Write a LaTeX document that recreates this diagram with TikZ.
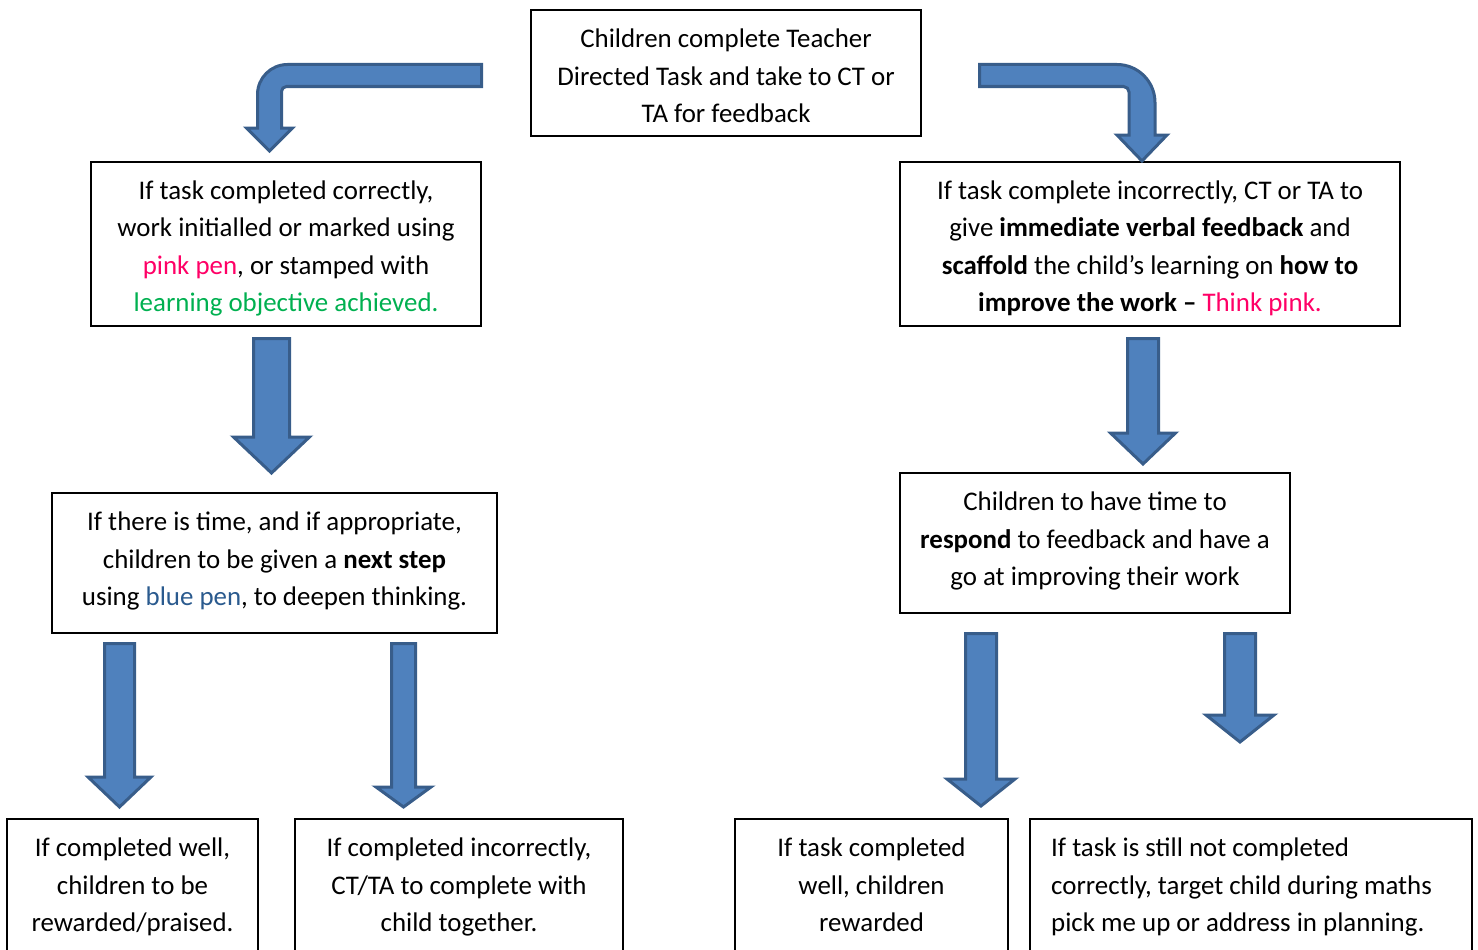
\documentclass[tikz,border=0pt]{standalone}
\usepackage{fontspec}
\setmainfont{Carlito}
\definecolor{arrfill}{HTML}{4F81BD}
\definecolor{arrline}{HTML}{385D8A}
\definecolor{pinkpen}{HTML}{FF0066}
\definecolor{greenpen}{HTML}{00B050}
\definecolor{bluepen}{HTML}{2A5A8E}
\tikzset{
  barrow/.style={fill=arrfill, draw=arrline, line width=3pt, line join=miter},
  frame/.style={draw, line width=1.5pt, inner sep=0pt},
  txt/.style={align=center, inner sep=0pt, font=\fontsize{26.9}{37.5}\selectfont}
}
\newcommand\bdarrow[6]{\draw[barrow] ({#1-#5},#2) -- ({#1+#5},#2) -- ({#1+#5},#3) -- ({#1+#6},#3) -- (#1,#4) -- ({#1-#6},#3) -- ({#1-#5},#3) -- cycle;}
\begin{document}
\begin{tikzpicture}[x=1pt,y=-1pt]
\useasboundingbox (0,0) rectangle (1478,950);
\clip (0,0) rectangle (1478,950);

% box frames
\node[frame, minimum width=390, minimum height=126] (top) at (726,73) {};
\node[frame, minimum width=390, minimum height=164] (left1) at (286,244) {};
\node[frame, minimum width=500, minimum height=164] (right1) at (1150,244) {};
\node[frame, minimum width=445, minimum height=140] (left2) at (274.5,563) {};
\node[frame, minimum width=390, minimum height=140] (right2) at (1095,543) {};
\node[frame, minimum width=251, minimum height=140] (bot1) at (132.5,889) {};
\node[frame, minimum width=328, minimum height=140] (bot2) at (459,889) {};
\node[frame, minimum width=273, minimum height=140] (bot3) at (871.5,889) {};
\node[frame, minimum width=442, minimum height=140] (bot4) at (1251,889) {};

% box texts
\node[txt] (topt) at (726,76)
  {Children complete Teacher\\Directed Task and take to CT or\\TA for feedback};
\node[txt] (left1t) at (286,248.5)
  {If task completed correctly,\\work initialled or marked using\\\textcolor{pinkpen}{pink pen}, or stamped with\\\textcolor{greenpen}{learning objective achieved.}};
\node[txt] (right1t) at (1150,248.5)
  {If task complete incorrectly, CT or TA to\\give \textbf{immediate verbal feedback} and\\\textbf{scaffold} the child’s learning on \textbf{how to}\\\textbf{improve the work –} \textcolor{pinkpen}{Think pink.}};
\node[txt] (left2t) at (274.5,561)
  {If there is time, and if appropriate,\\children to be given a \textbf{next step}\\using \textcolor{bluepen}{blue pen}, to deepen thinking.};
\node[txt] (right2t) at (1095,541)
  {Children to have time to\\\textbf{respond} to feedback and have a\\go at improving their work};
\node[txt] (bot1t) at (132.5,887)
  {If completed well,\\children to be\\rewarded/praised.};
\node[txt] (bot2t) at (459,887)
  {If completed incorrectly,\\CT/TA to complete with\\child together.};
\node[txt] (bot3t) at (871.5,890.5)
  {If task completed\\well, children\\rewarded\strut};
\node[txt, align=left, anchor=west] (bot4t) at (1051,887)
  {If task is still not completed\\correctly, target child during maths\\pick me up or address in planning.};

% bent arrows
\draw[barrow] (481.5,64.5) -- (287.5,64.5) .. controls (270.9,64.5) and (257.5,77.9) .. (257.5,94.5)
  -- (257.5,128) -- (246.5,128) -- (269.5,151) -- (292.5,128) -- (281.5,128) -- (281.5,91.5)
  .. controls (281.5,88.7) and (283.7,86.5) .. (286.5,86.5) -- (481.5,86.5) -- cycle;
\draw[barrow] (979.5,64.5) -- (1117,64.5) .. controls (1138,64.5) and (1155,81.5) .. (1155,102.5)
  -- (1155,135) -- (1167,135) -- (1142,161) -- (1117,135) -- (1129,135) -- (1129,92)
  .. controls (1129,89) and (1126.5,86.5) .. (1123.5,86.5) -- (979.5,86.5) -- cycle;

% straight block arrows
\bdarrow{271.5}{338.5}{437}{473}{18}{38}
\bdarrow{1143}{338.5}{433}{464}{15.5}{32.5}
\bdarrow{119.5}{643.5}{777}{807}{15}{31.5}
\bdarrow{403.5}{643.5}{787}{807}{12}{27.5}
\bdarrow{981}{633.5}{779}{806}{15.5}{34}
\bdarrow{1240}{633.5}{715}{742}{15.5}{34}
\end{tikzpicture}
\end{document}
